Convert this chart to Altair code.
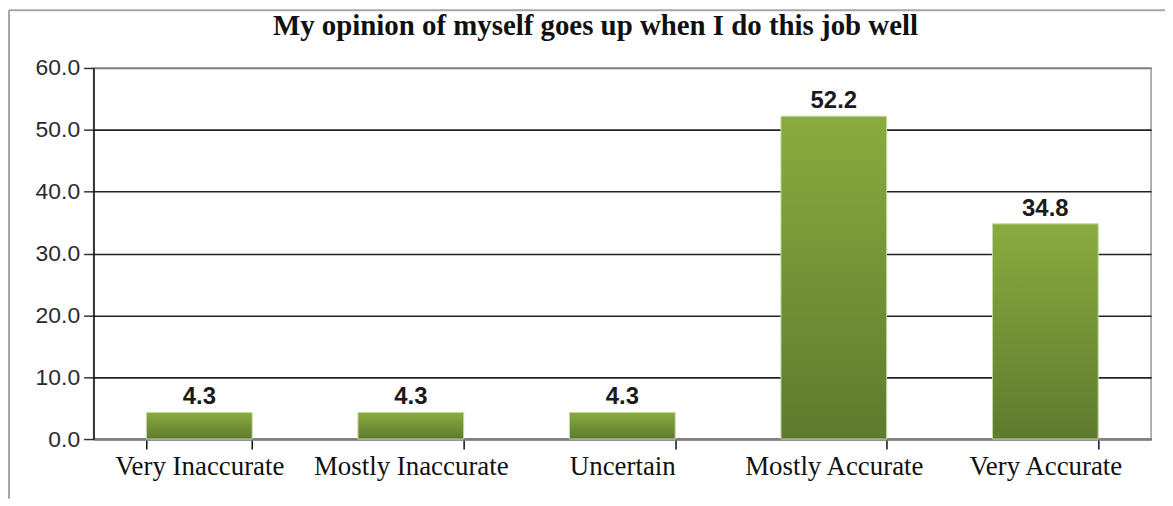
import altair as alt
import pandas as pd

categories = ["Very Inaccurate", "Mostly Inaccurate", "Uncertain", "Mostly Accurate", "Very Accurate"]
values = [4.3, 4.3, 4.3, 52.2, 34.8]
y_ticks = [0, 10, 20, 30, 40, 50, 60]
title_text = "My opinion of myself goes up when I do this job well"

df = pd.DataFrame({"cat": categories, "val": values})

W, H = 1063, 373
PL, PT, PR, PB = 86, 59, 14, 60

gradient = alt.Gradient(
    gradient="linear",
    stops=[alt.GradientStop(color="#8aab3f", offset=0),
           alt.GradientStop(color="#5e7a2e", offset=1)],
    x1=0, x2=0, y1=0, y2=1,
)

x_enc = alt.X(
    "cat:N", sort=categories, title=None,
    scale=alt.Scale(paddingInner=0.5, paddingOuter=0.25),
    axis=alt.Axis(labelAngle=0, tickBand="extent", labelFont="Liberation Serif",
                  labelFontSize=27, labelColor="#111", labelPadding=5, labelLimit=0,
                  domainColor="#808080", domainWidth=2.5, tickColor="#111",
                  tickWidth=1.5, tickSize=10, grid=False),
)
y_enc = alt.Y(
    "val:Q", title=None,
    scale=alt.Scale(domain=[0, 60], nice=False),
    axis=alt.Axis(values=y_ticks, format=".1f", labelFont="Liberation Sans",
                  labelFontSize=23, labelColor="#2a2a2a", labelPadding=4,
                  domainColor="#111", domainWidth=1.5, tickColor="#333",
                  tickWidth=1.5, tickSize=10, grid=True,
                  gridColor=alt.condition(alt.datum.value == 60, alt.value("#7a7a7a"), alt.value("#222")),
                  gridWidth=1.6),
)

base = alt.Chart(df).encode(x=x_enc, y=y_enc)
bars = base.mark_bar(color=gradient, stroke="#c8d9a8", strokeWidth=1)
labels = base.mark_text(baseline="alphabetic", dy=-8, font="Liberation Sans",
                        fontSize=24, fontWeight="bold", color="#1a1a1a").encode(
    text=alt.Text("val:Q", format=".1f"))

frame = alt.Data(values=[{"t": title_text}])
left_border = alt.Chart(frame).mark_rule(color="#a6a6a6", strokeWidth=2).encode(
    x=alt.value(-PL + 1), y=alt.value(-PT + 1), y2=alt.value(H + PB))
top_border = alt.Chart(frame).mark_rule(color="#a6a6a6", strokeWidth=2).encode(
    x=alt.value(-PL + 1), x2=alt.value(W + PR), y=alt.value(-PT + 1))
title = alt.Chart(frame).mark_text(font="Liberation Serif", fontSize=29, fontWeight="bold",
                                   color="#111", align="center", baseline="middle").encode(
    x=alt.value(W / 2 - 27), y=alt.value(-42), text="t:N")

chart = alt.layer(bars, labels, left_border, top_border, title).properties(
    width=W, height=H,
    autosize=alt.AutoSizeParams(type="none"),
    padding={"left": PL, "top": PT, "right": PR, "bottom": PB},
).configure_view(stroke="#999", strokeWidth=1.5)

chart.save("out.html", embed_options={"renderer": "svg", "actions": False})
